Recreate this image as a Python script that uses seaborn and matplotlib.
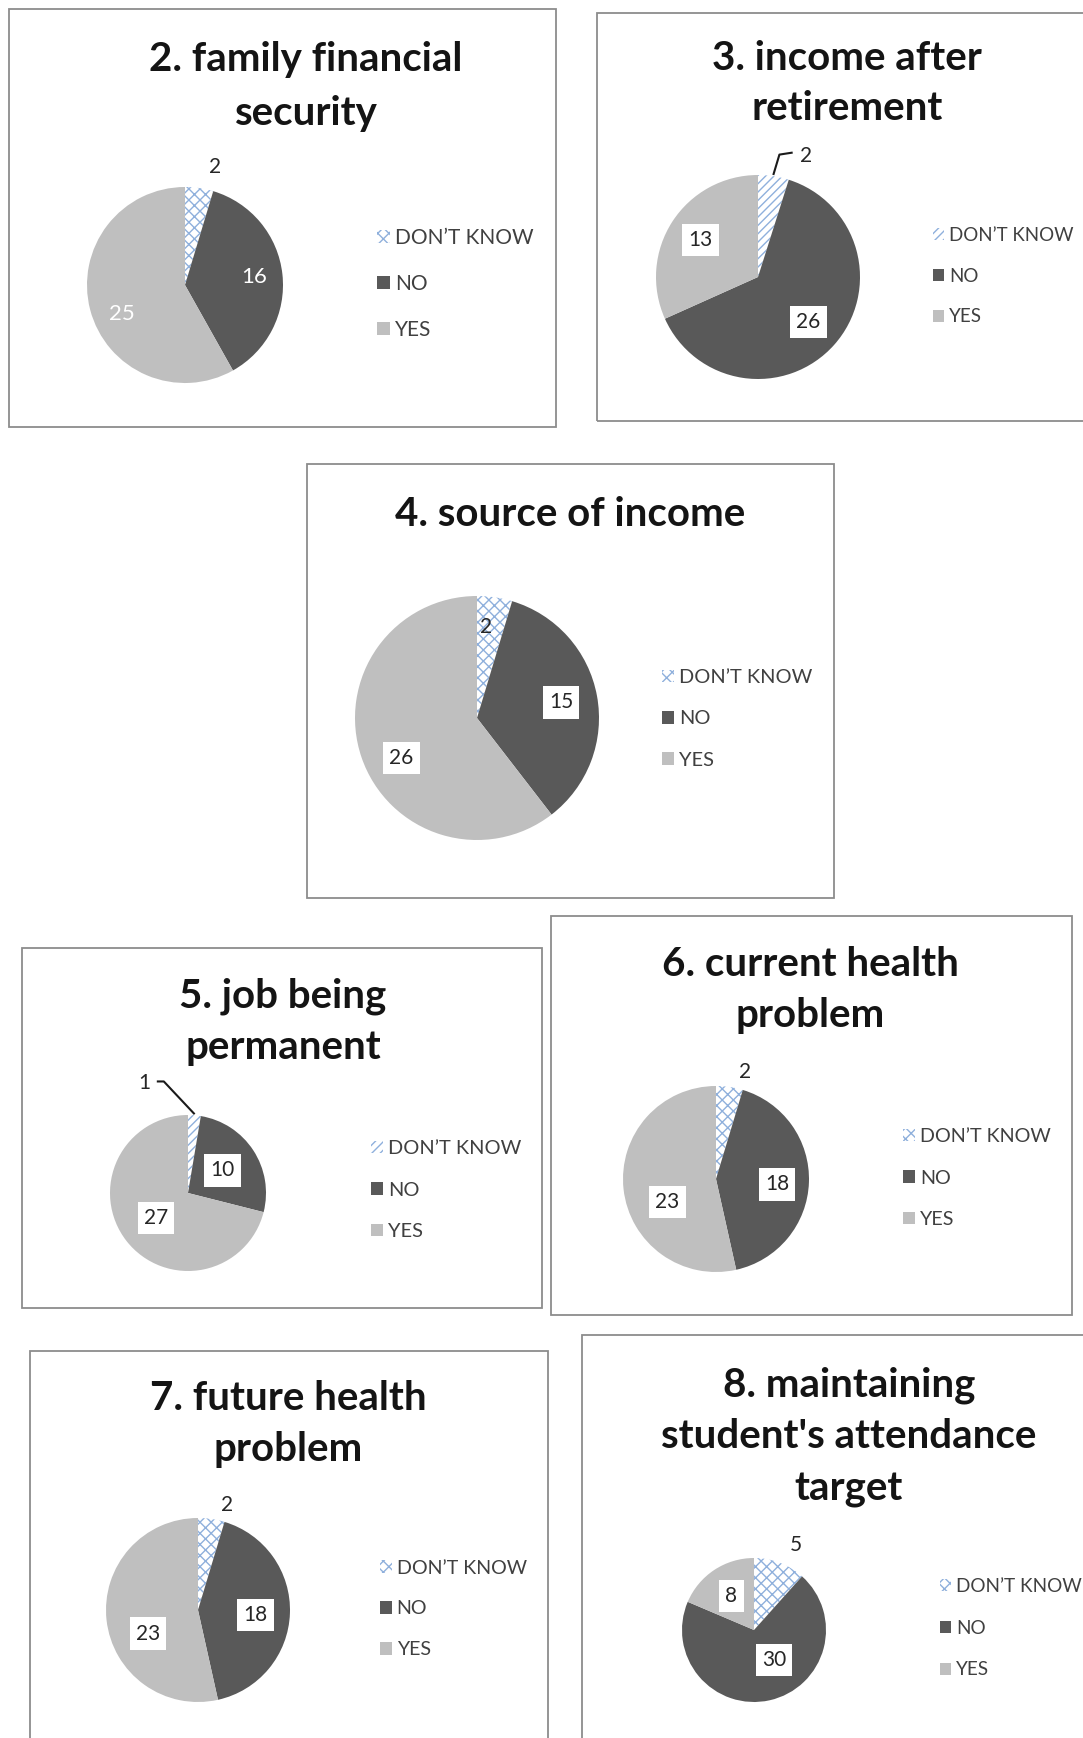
import numpy as np
import matplotlib
matplotlib.use("Agg")
import matplotlib.pyplot as plt
from matplotlib.patches import Rectangle
import seaborn as sns

# ---- survey answers (order: DON'T KNOW, NO, YES) ----
categories = ["DON\u2019T KNOW", "NO", "YES"]

family_financial_security = [2, 16, 25]
income_after_retirement = [2, 26, 13]
source_of_income = [2, 15, 26]
job_being_permanent = [1, 10, 27]
current_health_problem = [2, 18, 23]
future_health_problem = [2, 18, 23]
attendance_target = [5, 30, 8]

titles = [
    ["2. family financial", "security"],
    ["3. income after", "retirement"],
    ["4. source of income"],
    ["5. job being", "permanent"],
    ["6. current health", "problem"],
    ["7. future health", "problem"],
    ["8. maintaining", "student's attendance", "target"],
]
series = [
    family_financial_security,
    income_after_retirement,
    source_of_income,
    job_being_permanent,
    current_health_problem,
    future_health_problem,
    attendance_target,
]

# ---- page layout in pixels ----
# label specs: (style, distance in radii, angular nudge in degrees clockwise)
# legend: (x of marker, y of middle row, font size, row spacing)
W, H = 1083, 1738
layout = [
    dict(box=(9, 9, 556, 427), title=(306, 59, 55), pie=(185, 285, 98),
         legend=(377, 284, 15, 1.25), hatch="xxx",
         labels=[("plain", 1.24, 6), ("white", 0.71, 0), ("white", 0.71, -10)]),
    dict(box=(597, 13, 1100, 421), title=(847, 58, 50), pie=(758, 277, 102),
         legend=(933, 276, 13.5, 1.27), hatch="////",
         labels=[("leader", [(0.15, 1.0), (0.21, 1.2), (0.34, 1.22)], (0.47, 1.19)),
                 ("box", 0.66, 0), ("box", 0.67, 0)]),
    dict(box=(307, 464, 834, 898), title=(570, 515, 50), pie=(477, 718, 122),
         legend=(662, 719, 14.4, 1.22), hatch="xxx",
         labels=[("plain", 0.75, -3), ("box", 0.70, 0), ("box", 0.70, -9)]),
    dict(box=(22, 948, 542, 1308), title=(283, 996, 51), pie=(188, 1193, 78),
         legend=(371, 1190, 14.4, 1.22), hatch="////",
         labels=[("leader", [(0.085, 1.01), (-0.31, 1.43), (-0.40, 1.43)], (-0.56, 1.41)),
                 ("box", 0.53, 0), ("box", 0.52, 0)]),
    dict(box=(551, 916, 1072, 1315), title=(810, 964, 51), pie=(716, 1179, 93),
         legend=(903, 1178, 14.2, 1.25), hatch="xxx",
         labels=[("plain", 1.19, 7), ("box", 0.66, 3), ("box", 0.58, -19)]),
    dict(box=(30, 1351, 548, 1760), title=(288, 1399, 51), pie=(198, 1610, 92),
         legend=(380, 1609, 14.1, 1.22), hatch="xxx",
         labels=[("plain", 1.18, 7), ("box", 0.63, 3), ("box", 0.60, -19)]),
    dict(box=(582, 1335, 1100, 1760), title=(849, 1385, 52), pie=(754, 1630, 72),
         legend=(940, 1628, 13.6, 1.32), hatch="xxx",
         labels=[("plain", 1.32, 5), ("box", 0.50, -21), ("box", 0.57, 0)]),
]

sns.set_theme(style="white")
plt.rcParams["font.family"] = ["Lato", "DejaVu Sans"]
plt.rcParams["hatch.linewidth"] = 1.0

colors = sns.color_palette(["#ffffff", "#595959", "#bfbfbf"])
hatch_color = "#8fb0dc"
text_dark = "#262626"

fig = plt.figure(figsize=(W / 100, H / 100), dpi=100)
fig.patch.set_facecolor("white")


def fx(x):
    return x / W


def fy(y):
    return 1 - y / H


for values, lines, cfg in zip(series, titles, layout):
    x0, y0, x1, y1 = cfg["box"]
    fig.add_artist(Rectangle((fx(x0), fy(y1)), (x1 - x0) / W, (y1 - y0) / H,
                             transform=fig.transFigure, fill=False,
                             ec="#8c8c8c", lw=1.3))

    tx, ty, step = cfg["title"]
    for i, line in enumerate(lines):
        fig.text(fx(tx), fy(ty + i * step), line, ha="center", va="center",
                 fontsize=29, fontweight="bold", color="#141414")

    cx, cy, r = cfg["pie"]
    ax = fig.add_axes([fx(cx - r), fy(cy + r), 2 * r / W, 2 * r / H])
    wedges, _ = ax.pie(values, colors=colors, startangle=90, counterclock=False,
                       radius=1.0, wedgeprops=dict(linewidth=0))
    wedges[0].set_hatch(cfg["hatch"])
    wedges[0].set_edgecolor(hatch_color)
    wedges[0].set_linewidth(0)
    ax.set_xlim(-1, 1)
    ax.set_ylim(-1, 1)
    ax.set_axis_off()

    for w, v, spec in zip(wedges, values, cfg["labels"]):
        kind = spec[0]
        if kind == "leader":
            pts = np.array(spec[1])
            ax.plot(pts[:, 0], pts[:, 1], color="#1a1a1a", lw=1.5,
                    solid_capstyle="butt", clip_on=False)
            ax.text(spec[2][0], spec[2][1], str(v), ha="center", va="center",
                    fontsize=15, color=text_dark)
            continue
        d, nudge = spec[1], spec[2]
        mid = np.deg2rad((w.theta1 + w.theta2) / 2 - nudge)
        px, py = d * np.cos(mid), d * np.sin(mid)
        if kind == "plain":
            ax.text(px, py, str(v), ha="center", va="center", fontsize=15,
                    color=text_dark)
        elif kind == "white":
            ax.text(px, py, str(v), ha="center", va="center", fontsize=16,
                    color="white")
        else:
            ax.text(px, py, str(v), ha="center", va="center", fontsize=15,
                    color=text_dark,
                    bbox=dict(boxstyle="square,pad=0.3", fc="white", ec="none"))

    lx, ly, lsize, lspace = cfg["legend"]
    fig.legend(wedges, categories, loc="center left",
               bbox_to_anchor=(fx(lx), fy(ly)), frameon=False, fontsize=lsize,
               labelcolor="#404040", handlelength=0.6, handleheight=0.6,
               handletextpad=0.25, labelspacing=lspace, borderpad=0,
               borderaxespad=0)

fig.savefig("out.png", dpi=100, facecolor="white")
